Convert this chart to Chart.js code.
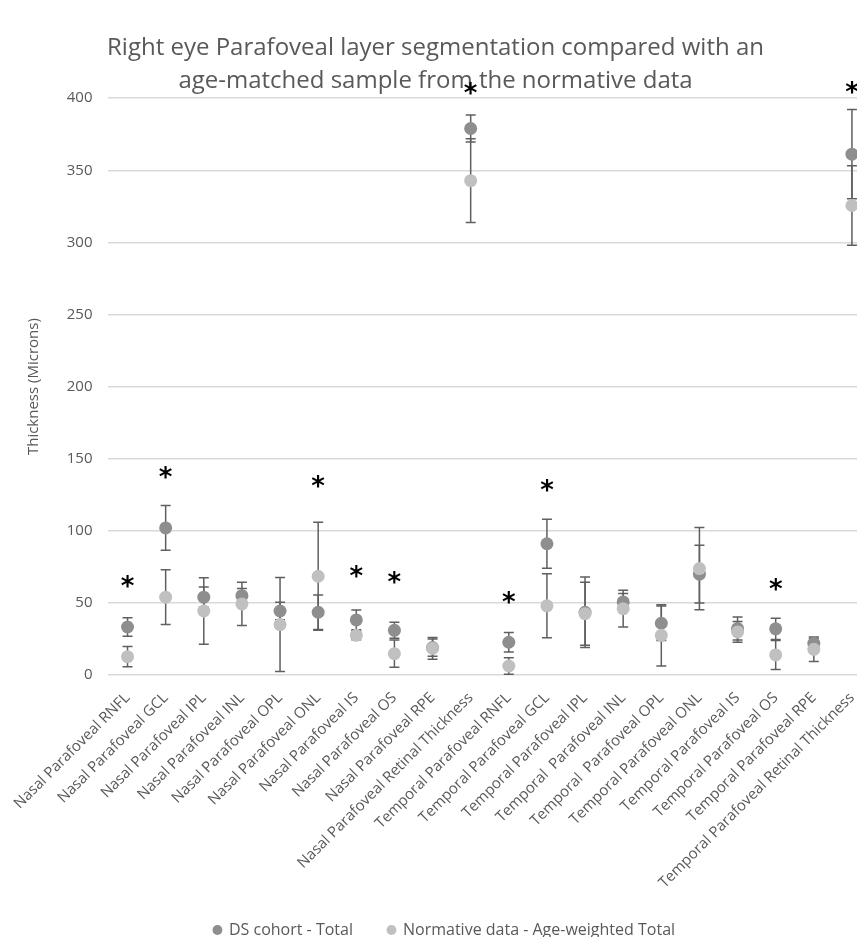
<!DOCTYPE html>
<html>
<head>
<meta charset="utf-8">
<script src="https://cdn.jsdelivr.net/npm/chart.js@4.4.1/dist/chart.umd.min.js"></script>
<style>
  html, body { margin: 0; padding: 0; background: #fff; overflow: hidden; }
  #wrap { width: 886px; height: 937px; }
</style>
</head>
<body>
<div id="wrap"><canvas id="chart" width="886" height="937"></canvas></div>
<script>
const categories = [
  'Nasal Parafoveal RNFL', 'Nasal Parafoveal GCL', 'Nasal Parafoveal IPL', 'Nasal Parafoveal INL',
  'Nasal Parafoveal OPL', 'Nasal Parafoveal ONL', 'Nasal Parafoveal IS', 'Nasal Parafoveal OS',
  'Nasal Parafoveal RPE', 'Nasal Parafoveal Retinal Thickness', 'Temporal Parafoveal RNFL',
  'Temporal Parafoveal GCL', 'Temporal Parafoveal IPL', 'Temporal  Parafoveal INL',
  'Temporal  Parafoveal OPL', 'Temporal Parafoveal ONL', 'Temporal Parafoveal IS',
  'Temporal Parafoveal OS', 'Temporal Parafoveal RPE', 'Temporal Parafoveal Retinal Thickness'
];

// DS cohort - Total (mean and +/- error)
const dsValues = [33.3, 102, 54, 55, 44.4, 43.5, 38.2, 31, 19, 379, 22.7, 91, 43.5, 50.7, 35.9, 69.9, 32.2, 32, 22, 361.2];
const dsError  = [6.4, 15.5, 7, 5, 6, 12, 6.8, 5.6, 6, 9.3, 6.7, 17, 24.5, 5.8, 12, 20, 8, 7.4, 3.5, 31];

// Normative data - Age-weighted Total
const normValues = [12.7, 54, 44.4, 49.3, 35, 68.5, 27.5, 14.8, 18.5, 342.8, 6.25, 48, 42.5, 46, 27.5, 73.8, 29.9, 13.9, 17.8, 325.6];
const normError  = [7, 19, 23, 15, 32.6, 37.5, 3, 9.5, 7.5, 29, 5.7, 22.2, 21.8, 12.7, 21.2, 28.5, 7.2, 10, 8.5, 27.5];

// significance markers (value where the * sits)
const starValues = [64, 140, null, null, null, 134, 71, 67, null, 406, 53, 131, null, null, null, null, null, 62, null, 407];

const yTicks = { min: 0, max: 400, step: 50 };

const textColor = '#595959';
const fontFamily = "'Open Sans', sans-serif";

const errorBars = {
  id: 'errorBars',
  beforeDatasetsDraw(chart) {
    const { ctx, scales: { x, y } } = chart;
    ctx.save();
    ctx.strokeStyle = '#5f5f5f';
    ctx.lineWidth = 1.5;
    [[dsValues, dsError], [normValues, normError]].forEach(([vals, errs]) => {
      vals.forEach((v, i) => {
        const px = x.getPixelForValue(i);
        const top = y.getPixelForValue(v + errs[i]);
        const bot = y.getPixelForValue(v - errs[i]);
        ctx.beginPath();
        ctx.moveTo(px, top); ctx.lineTo(px, bot);
        ctx.moveTo(px - 5, top); ctx.lineTo(px + 5, top);
        ctx.moveTo(px - 5, bot); ctx.lineTo(px + 5, bot);
        ctx.stroke();
      });
    });
    ctx.restore();
  }
};

const stars = {
  id: 'stars',
  afterDatasetsDraw(chart) {
    const { ctx, scales: { x, y } } = chart;
    ctx.save();
    ctx.fillStyle = '#000';
    ctx.font = "bold 26px 'DejaVu Sans'";
    ctx.textAlign = 'center';
    ctx.textBaseline = 'middle';
    starValues.forEach((v, i) => {
      if (v === null) return;
      ctx.fillText('*', x.getPixelForValue(i), y.getPixelForValue(v) + 6);
    });
    ctx.restore();
  }
};

// nudge the legend to where it sits in the original figure,
// and let the long rotated labels run down past the axis box
const legendShift = {
  id: 'legendShift',
  afterLayout(chart) {
    const lg = chart.legend;
    lg.left += 9; lg.right += 9;
    lg.top += 11; lg.bottom += 11;
    chart.scales.x.bottom = chart.height;
  }
};

const ctx = document.getElementById('chart').getContext('2d');
new Chart(ctx, {
  type: 'line',
  data: {
    labels: categories,
    datasets: [
      {
        label: 'DS cohort - Total',
        data: dsValues,
        showLine: false,
        pointRadius: 6.5,
        pointHoverRadius: 6.5,
        pointBorderWidth: 0,
        backgroundColor: '#8e8e8e',
        borderColor: '#8e8e8e',
        order: 2
      },
      {
        label: 'Normative data - Age-weighted Total',
        data: normValues,
        showLine: false,
        pointRadius: 6.5,
        pointHoverRadius: 6.5,
        pointBorderWidth: 0,
        backgroundColor: '#c0c0c0',
        borderColor: '#c0c0c0',
        order: 1
      }
    ]
  },
  options: {
    responsive: false,
    animation: false,
    layout: { padding: { left: 0, right: 15, top: 0, bottom: 0 } },
    plugins: {
      title: {
        display: true,
        text: ['Right eye Parafoveal layer segmentation compared with an', 'age-matched sample from the normative data'],
        color: textColor,
        font: { family: fontFamily, size: 24, weight: 'normal', lineHeight: 1.4 },
        padding: { top: 31, bottom: 0 }
      },
      legend: {
        position: 'bottom',
        labels: {
          usePointStyle: true,
          pointStyle: 'circle',
          boxWidth: 7,
          boxHeight: 7,
          padding: 35,
          color: textColor,
          font: { family: fontFamily, size: 16 },
          sort: (a, b) => a.datasetIndex - b.datasetIndex
        }
      },
      tooltip: { enabled: false }
    },
    scales: {
      x: {
        offset: true,
        grid: { display: false, drawTicks: false },
        border: { display: false },
        ticks: {
          autoSkip: false,
          minRotation: 45,
          maxRotation: 45,
          padding: 14,
          color: textColor,
          font: { family: fontFamily, size: 15 }
        },
        afterFit: s => { s.height = 201; }
      },
      y: {
        min: yTicks.min,
        max: yTicks.max,
        grid: { color: '#d9d9d9', lineWidth: 1.5, drawTicks: false },
        border: { display: false },
        ticks: {
          stepSize: yTicks.step,
          padding: 16,
          color: textColor,
          font: { family: fontFamily, size: 15 }
        },
        title: {
          display: true,
          text: 'Thickness (Microns)',
          color: textColor,
          font: { family: fontFamily, size: 15 },
          padding: { top: 24 }
        },
        afterFit: s => { s.width = 108; }
      }
    }
  },
  plugins: [errorBars, stars, legendShift]
});
</script>
</body>
</html>
